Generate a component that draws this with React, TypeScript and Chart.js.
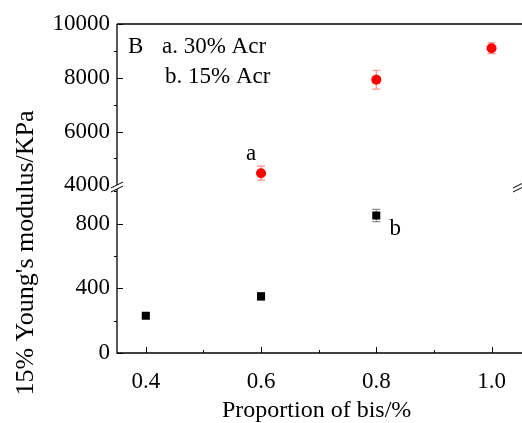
import React, { useEffect, useRef } from "react";
import { Chart, registerables } from "chart.js";

Chart.register(...registerables);

// ---- data ----
const propA = [0.6, 0.8, 1.0];
const modA = [4450, 7930, 9100];
const errA = [260, 350, 200];

const propB = [0.4, 0.6, 0.8];
const modB = [230, 350, 850];
const errB = [12, 22, 38];

const xTicks = [0.4, 0.6, 0.8, 1.0];
const xMinor = [0.5, 0.7, 0.9];
const upperTicks = [4000, 6000, 8000, 10000];
const upperMinor = [5000, 7000, 9000];
const lowerTicks = [0, 400, 800];
const lowerMinor = [200, 600, 1000];

const FONT = "'Liberation Serif', 'Times New Roman', serif";

const decorPlugin = {
  id: "decor",
  beforeDatasetsDraw(chart: any) {
    const ctx = chart.ctx;
    const xs = chart.scales.x;
    const yt = chart.scales.yTop;
    const yb = chart.scales.yBot;
    const cap = 4;
    ctx.save();
    ctx.lineWidth = 1.2;
    ctx.strokeStyle = "rgba(255,0,0,0.45)";
    propA.forEach((x, i) => {
      const px = xs.getPixelForValue(x);
      const y1 = yt.getPixelForValue(modA[i] + errA[i]);
      const y2 = yt.getPixelForValue(modA[i] - errA[i]);
      ctx.beginPath();
      ctx.moveTo(px, y1); ctx.lineTo(px, y2);
      ctx.moveTo(px - cap, y1); ctx.lineTo(px + cap, y1);
      ctx.moveTo(px - cap, y2); ctx.lineTo(px + cap, y2);
      ctx.stroke();
    });
    ctx.strokeStyle = "rgba(0,0,0,0.45)";
    propB.forEach((x, i) => {
      const px = xs.getPixelForValue(x);
      const y1 = yb.getPixelForValue(modB[i] + errB[i]);
      const y2 = yb.getPixelForValue(modB[i] - errB[i]);
      ctx.beginPath();
      ctx.moveTo(px, y1); ctx.lineTo(px, y2);
      ctx.moveTo(px - cap, y1); ctx.lineTo(px + cap, y1);
      ctx.moveTo(px - cap, y2); ctx.lineTo(px + cap, y2);
      ctx.stroke();
    });
    ctx.restore();
  },
  afterDraw(chart: any) {
    const ctx = chart.ctx;
    const area = chart.chartArea;
    const xs = chart.scales.x;
    const yt = chart.scales.yTop;
    const yb = chart.scales.yBot;
    const W = chart.width;
    ctx.save();
    ctx.strokeStyle = "#000";
    ctx.lineWidth = 1.3;
    ctx.beginPath();
    ctx.moveTo(area.left, area.top);
    ctx.lineTo(W, area.top);
    ctx.moveTo(area.left, area.top);
    ctx.lineTo(area.left, area.bottom);
    ctx.lineTo(W, area.bottom);
    ctx.stroke();
    ctx.lineWidth = 1;
    ctx.beginPath();
    xTicks.forEach((v) => {
      const p = Math.round(xs.getPixelForValue(v)) + 0.5;
      ctx.moveTo(p, area.bottom); ctx.lineTo(p, area.bottom - 6);
    });
    xMinor.forEach((v) => {
      const p = Math.round(xs.getPixelForValue(v)) + 0.5;
      ctx.moveTo(p, area.bottom); ctx.lineTo(p, area.bottom - 3);
    });
    upperTicks.forEach((v) => {
      const p = Math.round(yt.getPixelForValue(v)) + 0.5;
      ctx.moveTo(area.left, p); ctx.lineTo(area.left + 6, p);
    });
    lowerTicks.forEach((v) => {
      const p = Math.round(yb.getPixelForValue(v)) + 0.5;
      ctx.moveTo(area.left, p); ctx.lineTo(area.left + 6, p);
    });
    upperMinor.forEach((v) => {
      const p = Math.round(yt.getPixelForValue(v)) + 0.5;
      ctx.moveTo(area.left, p); ctx.lineTo(area.left - 3, p);
    });
    lowerMinor.forEach((v) => {
      const p = Math.round(yb.getPixelForValue(v)) + 0.5;
      ctx.moveTo(area.left, p); ctx.lineTo(area.left - 3, p);
    });
    ctx.stroke();

    const by = yb.top;
    const drawBreak = (cx: number) => {
      ctx.fillStyle = "#fff";
      ctx.beginPath();
      ctx.moveTo(cx - 6, by + 4);
      ctx.lineTo(cx + 6, by - 2);
      ctx.lineTo(cx + 6, by - 6);
      ctx.lineTo(cx - 6, by);
      ctx.closePath();
      ctx.fill();
      ctx.beginPath();
      ctx.moveTo(cx - 6, by + 4); ctx.lineTo(cx + 6, by - 2);
      ctx.moveTo(cx - 6, by); ctx.lineTo(cx + 6, by - 6);
      ctx.stroke();
    };
    drawBreak(area.left);
    drawBreak(W - 3);

    ctx.fillStyle = "#000";
    ctx.font = `23px ${FONT}`;
    ctx.textBaseline = "middle";
    ctx.textAlign = "left";
    ctx.fillText("B", 128, 47);
    ctx.fillText("a. 30% Acr", 162, 47);
    ctx.fillText("b. 15% Acr", 165, 77);
    ctx.textAlign = "center";
    ctx.fillText("a", xs.getPixelForValue(propA[0]) - 10, yt.getPixelForValue(modA[0]) - 19);
    ctx.fillText("b", xs.getPixelForValue(propB[2]) + 19, yb.getPixelForValue(modB[2]) + 13);

    ctx.save();
    ctx.translate(26, 253);
    ctx.rotate(-Math.PI / 2);
    ctx.font = `26px ${FONT}`;
    ctx.textAlign = "center";
    ctx.textBaseline = "middle";
    ctx.fillText("15% Young's modulus/KPa", 0, 0);
    ctx.restore();
    ctx.restore();
  },
};

export default function App() {
  const ref = useRef<HTMLCanvasElement | null>(null);
  useEffect(() => {
    document.body.style.margin = "0";
    const canvas = ref.current!;
    const tickFont = { family: FONT, size: 23 };
    const gridOff = { display: false, drawTicks: false, tickLength: 0 };
    const chart = new Chart(canvas, {
      type: "scatter",
      data: {
        datasets: [
          {
            label: "a. 30% Acr",
            data: propA.map((x, i) => ({ x, y: modA[i] })),
            yAxisID: "yTop",
            pointStyle: "circle",
            pointRadius: 5,
            backgroundColor: "#ff0000",
            borderColor: "#ff0000",
            borderWidth: 0,
          },
          {
            label: "b. 15% Acr",
            data: propB.map((x, i) => ({ x, y: modB[i] })),
            yAxisID: "yBot",
            pointStyle: "rect",
            pointRadius: 5.7,
            backgroundColor: "#000",
            borderColor: "#000",
            borderWidth: 0,
          },
        ],
      },
      options: {
        responsive: false,
        animation: false,
        layout: { padding: { top: 24, left: 0, right: 0, bottom: 0 } },
        plugins: { legend: { display: false }, tooltip: { enabled: false } },
        scales: {
          x: {
            type: "linear",
            position: "bottom",
            min: 0.35,
            max: 1.043,
            grid: gridOff,
            border: { display: false },
            afterBuildTicks: (s: any) => { s.ticks = xTicks.map((v) => ({ value: v })); },
            ticks: {
              font: tickFont, color: "#000", padding: 15, maxRotation: 0, autoSkip: false,
              callback: (v: any) => Number(v).toFixed(1),
            },
            title: {
              display: true, text: "Proportion of bis/%", color: "#000",
              font: { family: FONT, size: 24, lineHeight: 1.0 }, padding: { top: 0, bottom: 0 },
            },
            afterFit: (s: any) => { s.height = 70; },
          },
          yTop: {
            type: "linear",
            position: "left",
            stack: "v",
            stackWeight: 164,
            weight: 1,
            min: 3900,
            max: 10000,
            grid: gridOff,
            border: { display: false },
            afterBuildTicks: (s: any) => { s.ticks = upperTicks.map((v) => ({ value: v })); },
            ticks: { font: tickFont, color: "#000", padding: 7, callback: (v: any) => String(v) },
            afterFit: (s: any) => { s.width = 117; },
          },
          yBot: {
            type: "linear",
            position: "left",
            stack: "v",
            stackWeight: 165,
            weight: 0,
            min: 0,
            max: 1020,
            grid: gridOff,
            border: { display: false },
            afterBuildTicks: (s: any) => { s.ticks = lowerTicks.map((v) => ({ value: v })); },
            ticks: { font: tickFont, color: "#000", padding: 7, callback: (v: any) => String(v) },
            afterFit: (s: any) => { s.width = 117; },
          },
        },
      },
      plugins: [decorPlugin],
    } as any);
    return () => chart.destroy();
  }, []);
  return <canvas ref={ref} width={522} height={423} style={{ display: "block" }} />;
}
